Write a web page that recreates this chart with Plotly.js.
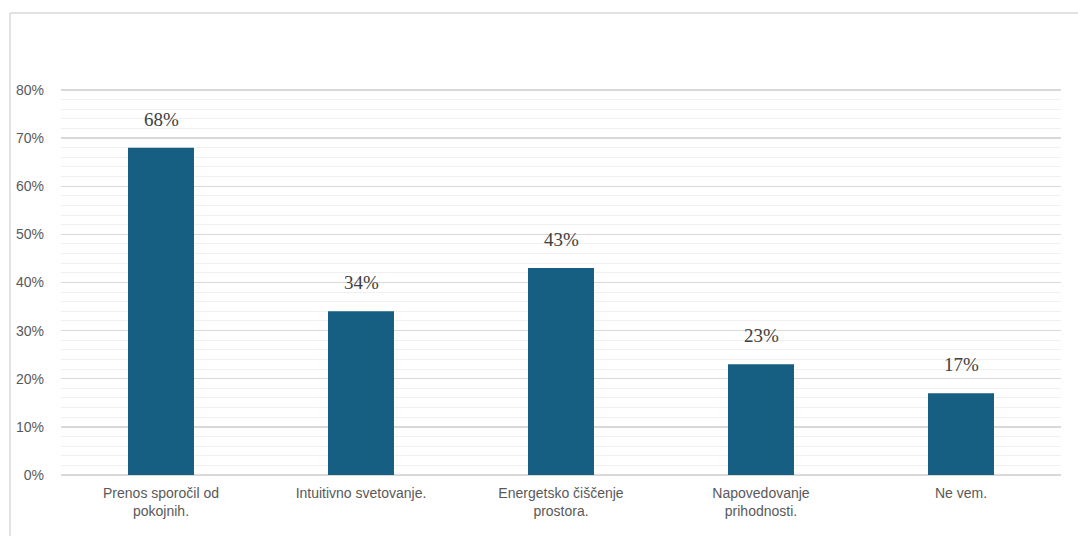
<!DOCTYPE html>
<html>
<head>
<meta charset="utf-8">
<script src="https://cdn.plot.ly/plotly-3.0.1.min.js"></script>
<style>body{margin:0;background:#fff;}#chart{width:1078px;height:536px;}</style>
</head>
<body>
<div id="chart"></div>
<script>
const categories = ["Prenos sporočil od<br>pokojnih.", "Intuitivno svetovanje.", "Energetsko čiščenje<br>prostora.", "Napovedovanje<br>prihodnosti.", "Ne vem."];
const values = [0.68, 0.34, 0.43, 0.23, 0.17];
const valueLabels = ["68%", "34%", "43%", "23%", "17%"];
const yTickVals = [0, 0.1, 0.2, 0.3, 0.4, 0.5, 0.6, 0.7, 0.8];
const yTickText = ["0%", "10%", "20%", "30%", "40%", "50%", "60%", "70%", "80%"];

const trace = {
  type: 'bar',
  x: categories,
  y: values,
  marker: {color: '#165f82'},
  width: 0.33,
  hoverinfo: 'none'
};

const annotations = categories.map((c, i) => ({
  x: c, y: values[i], xref: 'x', yref: 'y',
  text: valueLabels[i], showarrow: false,
  yanchor: 'bottom', yshift: 16,
  font: {family: 'Liberation Serif, serif', size: 19, color: '#404040'}
}));

const L = 61, R = 1061, T = 88, B = 475;
const W = R - L, H = B - T;
const px = v => (v - L) / W;
const py = v => (B - v) / H;

const layout = {
  width: 1078, height: 536,
  margin: {l: L, r: 1078 - R, t: T, b: 536 - B},
  paper_bgcolor: '#ffffff', plot_bgcolor: '#ffffff',
  showlegend: false,
  xaxis: {
    type: 'category',
    tickfont: {family: 'Liberation Sans Narrow, Liberation Sans, sans-serif', size: 14, color: '#595959'},
    showline: false, ticks: '', showgrid: false, fixedrange: true,
    ticklabelstandoff: 8
  },
  yaxis: {
    range: [0, 0.804],
    tickvals: yTickVals, ticktext: yTickText,
    tickfont: {family: 'Liberation Sans, sans-serif', size: 14, color: '#595959'},
    showgrid: true, gridcolor: '#d9d9d9', gridwidth: 1.3,
    zeroline: true, zerolinecolor: '#d9d9d9', zerolinewidth: 1.3,
    showline: false, ticks: '', ticklabelstandoff: 16,
    minor: {dtick: 0.02, tick0: 0, showgrid: true, gridcolor: '#f0f0f0', gridwidth: 1},
    fixedrange: true
  },
  annotations: annotations,
  shapes: [
    {type: 'line', xref: 'paper', yref: 'paper', x0: px(10), x1: px(1078), y0: py(13), y1: py(13), line: {color: '#d9d9d9', width: 1.5}},
    {type: 'line', xref: 'paper', yref: 'paper', x0: px(10), x1: px(10), y0: py(13), y1: py(536), line: {color: '#d9d9d9', width: 1.5}}
  ]
};

Plotly.newPlot('chart', [trace], layout, {displayModeBar: false, staticPlot: true});
</script>
</body>
</html>
